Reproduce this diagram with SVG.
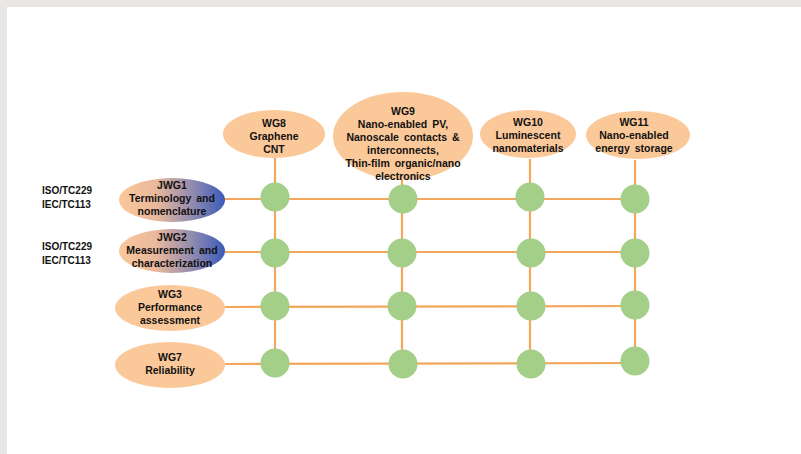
<svg xmlns="http://www.w3.org/2000/svg" width="801" height="454" viewBox="0 0 801 454">
<defs>
<linearGradient id="jg" x1="0" y1="0" x2="1" y2="0">
<stop offset="0" stop-color="#f9c99a"/>
<stop offset="0.35" stop-color="#eab89c"/>
<stop offset="0.7" stop-color="#8f8ab0"/>
<stop offset="1" stop-color="#3a5ab8"/>
</linearGradient>
</defs>
<style>
.wg{fill:#fbc999}
.jwg{fill:url(#jg)}
.dot{fill:#a3cf88}
.ln{stroke:#f2a75c;stroke-width:2.2;fill:none}
text{font-family:"Liberation Sans",Arial,sans-serif;font-weight:bold;font-size:10.5px;fill:#111;text-anchor:middle}
.side{text-anchor:start;font-size:10px}
.ws{word-spacing:2px}
</style>
<rect x="0" y="0" width="801" height="454" fill="#e8e7e5"/>
<rect x="7" y="7" width="794" height="447" fill="#ffffff"/>

<g id="connectors">
<line class="ln" x1="225" y1="199" x2="635" y2="199"/>
<line class="ln" x1="225" y1="252" x2="635" y2="252"/>
<line class="ln" x1="225" y1="307" x2="635" y2="306"/>
<line class="ln" x1="225" y1="364" x2="635" y2="363"/>
<line class="ln" x1="275" y1="158" x2="275" y2="364"/>
<line class="ln" x1="402" y1="178" x2="402" y2="364"/>
<line class="ln" x1="530" y1="159" x2="530" y2="364"/>
<line class="ln" x1="635" y1="160" x2="635" y2="363"/>
</g>

<g id="WG8"><ellipse class="wg" cx="274" cy="134" rx="51" ry="24"/>
<text x="274" y="127">WG8</text><text x="274" y="140">Graphene</text><text x="274" y="153">CNT</text></g>
<g id="WG9"><ellipse class="wg" cx="403" cy="136" rx="70" ry="44"/>
<text x="403" y="115">WG9</text><text class="ws" x="403" y="128">Nano-enabled PV,</text><text class="ws" x="403" y="141">Nanoscale contacts &amp;</text><text x="403" y="154">interconnects,</text><text class="ws" x="403" y="167">Thin-film organic/nano</text><text x="403" y="180">electronics</text></g>
<g id="WG10"><ellipse class="wg" cx="528" cy="134" rx="48" ry="24"/>
<text x="528" y="126">WG10</text><text x="528" y="139">Luminescent</text><text x="528" y="152">nanomaterials</text></g>
<g id="WG11"><ellipse class="wg" cx="638" cy="135" rx="52" ry="24"/>
<text x="634" y="126">WG11</text><text x="634" y="139">Nano-enabled</text><text class="ws" x="634" y="152">energy storage</text></g>

<g id="JWG1"><ellipse class="jwg" cx="172" cy="200" rx="53" ry="22"/>
<text x="172" y="189">JWG1</text><text class="ws" x="172" y="202">Terminology and</text><text x="172" y="215">nomenclature</text></g>
<g id="JWG2"><ellipse class="jwg" cx="172" cy="251" rx="53" ry="22"/>
<text x="172" y="241">JWG2</text><text class="ws" x="172" y="254">Measurement and</text><text x="172" y="267">characterization</text></g>
<g id="WG3"><ellipse class="wg" cx="170" cy="308" rx="55" ry="23"/>
<text x="170" y="298">WG3</text><text x="170" y="311">Performance</text><text x="170" y="324">assessment</text></g>
<g id="WG7"><ellipse class="wg" cx="170" cy="365" rx="55" ry="23"/>
<text x="170" y="361">WG7</text><text x="170" y="374">Reliability</text></g>

<g id="labels">
<text class="side" x="42" y="194">ISO/TC229</text><text class="side" x="42" y="208">IEC/TC113</text>
<text class="side" x="42" y="250">ISO/TC229</text><text class="side" x="42" y="264">IEC/TC113</text>
</g>

<g id="grid-nodes">
<circle class="dot" cx="275" cy="197" r="14.5"/><circle class="dot" cx="403" cy="199" r="14.5"/><circle class="dot" cx="530" cy="197" r="14.5"/><circle class="dot" cx="635" cy="199" r="14.5"/>
<circle class="dot" cx="275" cy="253" r="14.5"/><circle class="dot" cx="402" cy="253" r="14.5"/><circle class="dot" cx="531" cy="253" r="14.5"/><circle class="dot" cx="635" cy="253" r="14.5"/>
<circle class="dot" cx="275" cy="306" r="14.5"/><circle class="dot" cx="402" cy="306" r="14.5"/><circle class="dot" cx="531" cy="306" r="14.5"/><circle class="dot" cx="635" cy="305" r="14.5"/>
<circle class="dot" cx="275" cy="363" r="14.5"/><circle class="dot" cx="403" cy="364" r="14.5"/><circle class="dot" cx="531" cy="364" r="14.5"/><circle class="dot" cx="635" cy="361" r="14.5"/>
</g>
</svg>
